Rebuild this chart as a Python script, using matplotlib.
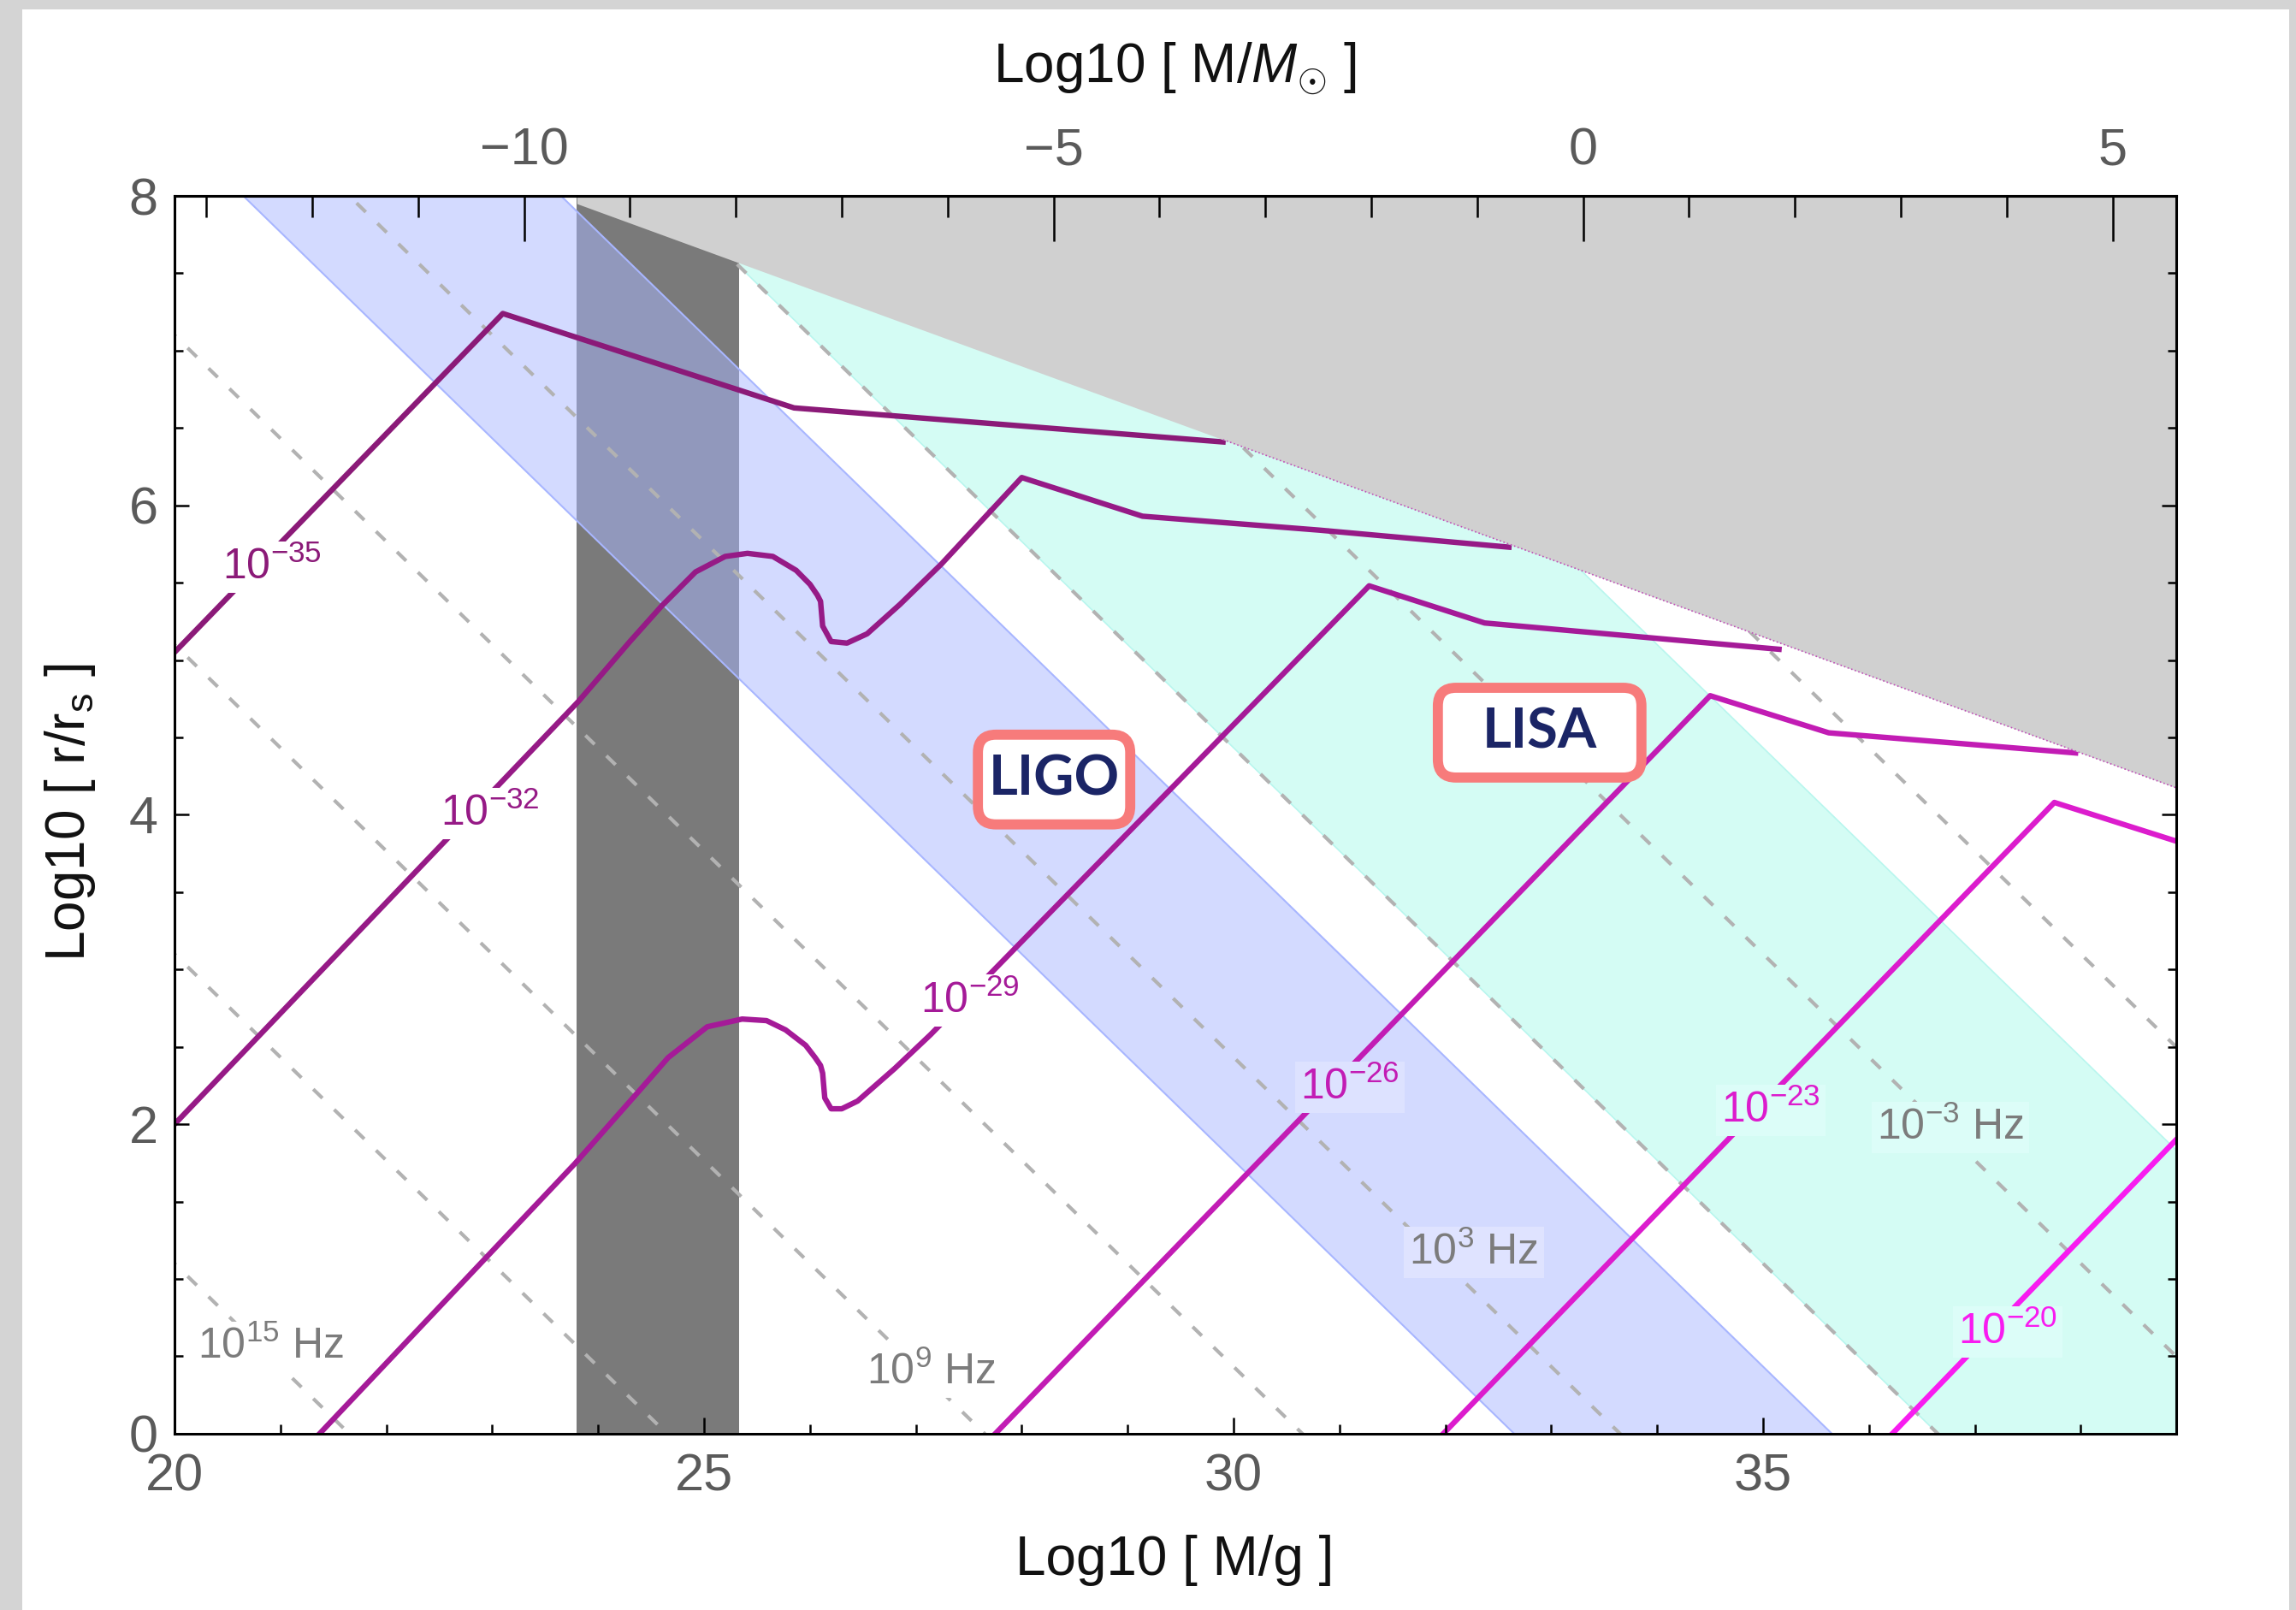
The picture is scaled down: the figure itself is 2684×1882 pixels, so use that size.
import numpy as np
import matplotlib
matplotlib.use('Agg')
import matplotlib.pyplot as plt
from matplotlib.patches import FancyBboxPatch, Rectangle

plt.rcParams['font.family'] = ['Liberation Sans', 'DejaVu Sans']
plt.rcParams['mathtext.fontset'] = 'custom'
plt.rcParams['mathtext.rm'] = 'Liberation Sans'
plt.rcParams['mathtext.it'] = 'Liberation Sans:italic'
plt.rcParams['mathtext.bf'] = 'Liberation Sans:bold'

# log10 f = F0 - log10(M/g) - 1.5 log10(r/rs)
F0 = 36.65
MSUN = 33.3  # log10(Msun / g)

# iso-frequency lines (log10 Hz) and the labelled ones
freq_lines = [15, 12, 9, 6, 3, 0, -3, -6, -9, -12]
freq_text = ['$10^{15}$ Hz', '$10^{9}$ Hz', '$10^{3}$ Hz', '$10^{-3}$ Hz']
freq_pos_x = [20.91, 27.15, 32.27, 36.77]
freq_pos_y = [0.56, 0.40, 1.17, 1.98]
freq_bg = ['white', 'white', '#dfe3ff', '#dcfdf8']

# detector bands in log10 f
ligo_band = (1, 4)
lisa_band = (-5, 0)

# excluded regions
dark_band = (23.8, 25.33)
gray_x = [23.8, 38.9]
gray_y = [7.95, 4.175]

# strain contours
h_names = ['$10^{-35}$', '$10^{-32}$', '$10^{-29}$', '$10^{-26}$', '$10^{-23}$', '$10^{-20}$']
h_x = [
    [20.0, 23.1, 25.85, 29.9],
    [20.0, 23.81, 24.3, 24.6, 24.92, 25.2, 25.41, 25.65, 25.87, 26.0, 26.07, 26.1,
     26.12, 26.2, 26.35, 26.54, 26.85, 27.24, 28.0, 29.14, 30.81, 32.6],
    [21.37, 23.78, 24.38, 24.66, 25.03, 25.36, 25.59, 25.77, 25.96, 26.05, 26.1,
     26.12, 26.14, 26.2, 26.3, 26.45, 26.8, 27.14, 27.77, 31.28, 32.37, 35.15],
    [27.75, 34.5, 35.62, 37.95],
    [31.98, 37.75, 38.9],
    [36.22, 38.9],
]
h_y = [
    [5.05, 7.24, 6.63, 6.41],
    [2.0, 4.73, 5.12, 5.35, 5.57, 5.67, 5.69, 5.67, 5.58, 5.49, 5.42, 5.38,
     5.22, 5.12, 5.11, 5.17, 5.36, 5.62, 6.18, 5.93, 5.84, 5.73],
    [0.0, 1.745, 2.21, 2.43, 2.63, 2.68, 2.67, 2.61, 2.51, 2.43, 2.38,
     2.33, 2.17, 2.10, 2.10, 2.15, 2.36, 2.58, 3.02, 5.48, 5.24, 5.07],
    [0.0, 4.77, 4.53, 4.40],
    [0.0, 4.08, 3.83],
    [0.0, 1.90],
]
h_colors = ['#8b1a78', '#961a86', '#a51a98', '#c21cb4', '#dc1ccd', '#f81cf0']
h_lab_x = [20.92, 22.98, 27.51, 31.10, 35.07, 37.31]
h_lab_y = [5.60, 4.01, 2.80, 2.24, 2.09, 0.66]
h_lab_bg = ['white', 'white', 'white', '#dde2ff', '#dcfdf8', '#dcfdf8']

fig = plt.figure(figsize=(26.84, 18.82), dpi=100, facecolor='#d4d4d4')
fig.add_artist(Rectangle((26 / 2684, 0), 2650 / 2684, 1871 / 1882,
                         transform=fig.transFigure, fc='white', ec='none', zorder=-10))
ax = fig.add_axes([0.076, 0.1095, 0.8718, 0.7688])
ax.set_xlim(20, 38.9)
ax.set_ylim(0, 8)

xs = np.array([10.0, 45.0])
# LISA band
ax.fill_between(xs, (F0 - lisa_band[1] - xs) / 1.5, (F0 - lisa_band[0] - xs) / 1.5,
                color='#d4fcf4', lw=0, zorder=1)
for lf in lisa_band:
    ax.plot(xs, (F0 - lf - xs) / 1.5, color='#b8f6ee', lw=1.2, zorder=1.1)
# dark excluded band
ax.axvspan(dark_band[0], dark_band[1], color='#7a7a7a', lw=0, zorder=2)
# LIGO band
ax.fill_between(xs, (F0 - ligo_band[1] - xs) / 1.5, (F0 - ligo_band[0] - xs) / 1.5,
                color='#a8b6ff', alpha=0.5, lw=0, zorder=3)
for lf in ligo_band:
    ax.plot(xs, (F0 - lf - xs) / 1.5, color='#a8b6ff', lw=1.5, zorder=3.1)

# iso-frequency dashed lines
for lf in freq_lines:
    ax.plot(xs, (F0 - lf - xs) / 1.5, color='#b2b2b2', lw=3.0,
            dashes=(3.6, 4.6), zorder=4)

# strain contours
for x, y, c in zip(h_x, h_y, h_colors):
    ax.plot(x, y, color=c, lw=4.6, zorder=5, solid_joinstyle='round')

# gray excluded region
ax.fill_between(gray_x, gray_y, 8, color='#d0d0d0', lw=0, zorder=6)
ex = np.array([29.9, 38.9])
ax.plot(ex, np.interp(ex, gray_x, gray_y), color='#c050b8', lw=1.2, ls=':', zorder=6.1)

# contour labels
for t, lx, ly, c, bg in zip(h_names, h_lab_x, h_lab_y, h_colors, h_lab_bg):
    ax.text(lx, ly, t, color=c, fontsize=36, ha='center', va='center', zorder=7,
            bbox=dict(boxstyle='square,pad=0.12', fc=bg, ec='none'))
for t, lx, ly, bg in zip(freq_text, freq_pos_x, freq_pos_y, freq_bg):
    ax.text(lx, ly, t, color='#7c7c7c', fontsize=36, ha='center', va='center', zorder=7,
            bbox=dict(boxstyle='square,pad=0.12', fc=bg, ec='none'))

# detector boxes
asp = (2340 / 18.9) / (1447 / 8)
for name, cx, cy, w in [('LIGO', 28.305, 4.228, 1.438), ('LISA', 32.89, 4.531, 1.922)]:
    h = 0.58
    box = FancyBboxPatch((cx - w / 2, cy - h / 2), w, h,
                         boxstyle='round,pad=0,rounding_size=0.17',
                         mutation_aspect=asp, fc='white', ec='#f77b7b', lw=8.5, zorder=8)
    ax.add_patch(box)
    ax.text(cx, cy, name, family='Lato', weight='bold', fontsize=47, color='#1b2566',
            ha='center', va='center', zorder=9)

# axes styling
for s in ax.spines.values():
    s.set_linewidth(2.2)
    s.set_zorder(10)
ax.xaxis.set_zorder(12)
ax.yaxis.set_zorder(12)
ax.set_xticks([20, 25, 30, 35])
ax.set_xticks(np.arange(20, 39, 1), minor=True)
ax.set_yticks([0, 2, 4, 6, 8])
ax.set_yticks(np.arange(0, 8.01, 0.5), minor=True)
ax.tick_params(which='both', direction='in', top=False, right=True,
               width=1.8, colors='black', labelcolor='#5a5a5a', labelsize=44)
ax.tick_params(axis='x', which='major', length=14, pad=16)
ax.tick_params(axis='x', which='minor', length=8)
ax.tick_params(axis='y', which='major', length=12, pad=14)
ax.tick_params(axis='y', which='minor', length=7)

secax = ax.secondary_xaxis('top', functions=(lambda v: v - MSUN, lambda v: v + MSUN))
secax.set_zorder(20)
secax.set_xticks([-10, -5, 0, 5])
secax.set_xticks(np.arange(-13, 6, 1), minor=True)
secax.set_xticklabels(['\u221210', '\u22125', '0', '5'])
secax.tick_params(which='both', direction='in', width=1.8, labelcolor='#5a5a5a', labelsize=44)
secax.tick_params(which='major', length=38, pad=17)
secax.tick_params(which='minor', length=18)
secax.spines['top'].set_linewidth(2.2)

fig.text(0.5116, 0.031, 'Log10 [ M/g ]', fontsize=46, ha='center', va='center', color='#111111')
fig.text(0.5116, 0.957, 'Log10 [ M/$M_{\\odot}$ ]', fontsize=46, ha='center', va='center',
         color='#111111')
fig.text(0.0306, 0.4952, 'Log10 [ r/r$_\\mathrm{s}$ ]', fontsize=46, ha='center', va='center',
         rotation=90, color='#111111')

fig.savefig('out.png', dpi=100, facecolor=fig.get_facecolor())
